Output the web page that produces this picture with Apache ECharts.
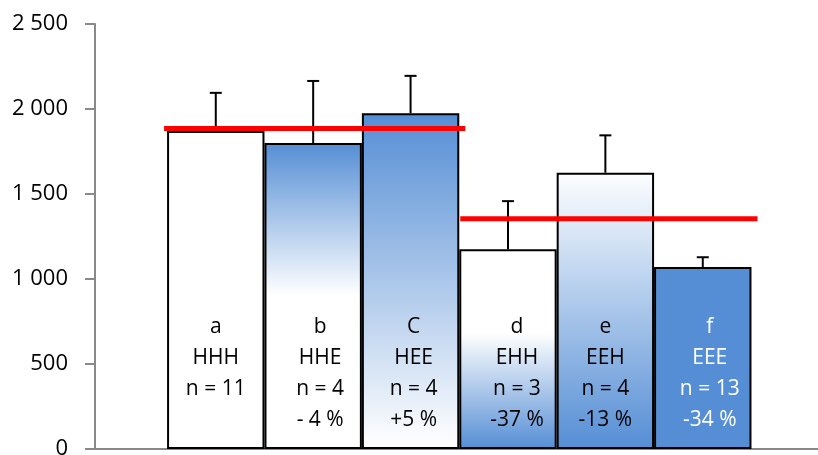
<!DOCTYPE html>
<html>
<head>
<meta charset="utf-8">
<title>Groups HHH–EEE</title>
<script src="https://cdn.jsdelivr.net/npm/echarts@6/dist/echarts.min.js"></script>
<style>
  html, body { margin: 0; padding: 0; background: #fff; }
  #chart { width: 818px; height: 455px; }
</style>
</head>
<body>
<div id="chart"></div>
<script>
// ---- data ----
const groupLetters = ['a', 'b', 'C', 'd', 'e', 'f'];
const groupCodes   = ['HHH', 'HHE', 'HEE', 'EHH', 'EEH', 'EEE'];
const groupN       = ['n = 11', 'n = 4', 'n = 4', 'n = 3', 'n = 4', 'n = 13'];
const groupChange  = ['', '- 4 %', '+5 %', '-37 %', '-13 %', '-34 %'];
const means        = [1870, 1800, 1975, 1175, 1625, 1070];
const errorTops    = [2095, 2165, 2195, 1458, 1845, 1128];
// reference level of each generation block: [first bar, last bar, level]
const blockLevels  = [[0, 2, 1885], [3, 5, 1355]];
const yTicks       = [0, 500, 1000, 1500, 2000, 2500];

// ---- styling ----
const BLUE = '#558ED5';
const grad = (stops) => new echarts.graphic.LinearGradient(0, 0, 0, 1,
  stops.map(([o, c]) => ({ offset: o, color: c })));
const fills = [
  '#ffffff',
  grad([[0, BLUE], [0.5, '#ffffff'], [1, '#ffffff']]),
  grad([[0, BLUE], [0.95, '#f8fafd'], [1, '#ffffff']]),
  grad([[0, '#ffffff'], [0.42, '#ffffff'], [1, BLUE]]),
  grad([[0, '#fdfeff'], [1, BLUE]]),
  BLUE
];
const textColors = ['#000', '#000', '#000', '#000', '#000', '#ffffff'];
const labelShift = [0, 7, 3, 9, 0, 7];   // px nudges of the in-bar captions
const FONT = '"Open Sans", "Liberation Sans", sans-serif';

const chart = echarts.init(document.getElementById('chart'), null, { renderer: 'canvas' });

const fmt = v => String(v).replace(/\B(?=(\d{3})+(?!\d))/g, ' ');

const option = {
  animation: false,
  backgroundColor: '#ffffff',
  grid: { left: 95, right: 0, top: 24, bottom: 6, containLabel: false, outerBoundsMode: 'none' },
  xAxis: {
    type: 'value',
    min: -1.24,
    max: 6.183,
    axisLine: { show: true, onZero: false, lineStyle: { color: '#898989', width: 2 } },
    axisTick: { show: false },
    axisLabel: { show: false },
    splitLine: { show: false }
  },
  yAxis: {
    type: 'value',
    min: yTicks[0],
    max: yTicks[yTicks.length - 1],
    interval: yTicks[1] - yTicks[0],
    axisLine: { show: true, onZero: false, lineStyle: { color: '#898989', width: 2 } },
    axisTick: { show: true, inside: false, length: 10, lineStyle: { color: '#898989', width: 2 } },
    axisLabel: { margin: 27, color: '#000', fontFamily: FONT, fontSize: 22, formatter: fmt },
    splitLine: { show: false }
  },
  series: [
    {
      type: 'bar',
      z: 2,
      barWidth: 97.4,
      data: means.map((v, i) => ({
        value: [i, v],
        itemStyle: { color: fills[i], borderColor: '#000', borderWidth: 2 }
      }))
    },
    {
      // error bars (upper whisker only)
      type: 'custom',
      z: 3,
      data: means.map((v, i) => [i, v, errorTops[i]]),
      renderItem: (params, api) => {
        const x = api.value(0);
        const base = api.coord([x, api.value(1)]);
        const top = api.coord([x, api.value(2)]);
        const st = { stroke: '#000', lineWidth: 2 };
        return {
          type: 'group',
          children: [
            { type: 'line', shape: { x1: base[0], y1: base[1], x2: top[0], y2: top[1] }, style: st },
            { type: 'line', shape: { x1: top[0] - 6, y1: top[1], x2: top[0] + 6, y2: top[1] }, style: st }
          ]
        };
      }
    },
    {
      // block reference levels
      type: 'custom',
      z: 4,
      data: blockLevels,
      renderItem: (params, api) => {
        const first = api.value(0), last = api.value(1), lvl = api.value(2);
        const p1 = api.coord([first - 0.5, lvl]);
        const p2 = api.coord([last + 0.5, lvl]);
        const leftPad = params.dataIndex === 0 ? -3 : 1;
        return {
          type: 'line',
          shape: { x1: p1[0] + leftPad, y1: p1[1], x2: p2[0] + 6, y2: p2[1] },
          style: { stroke: '#ff0000', lineWidth: 5 }
        };
      }
    },
    {
      // captions inside the bars
      type: 'custom',
      z: 5,
      data: means.map((v, i) => [i]),
      renderItem: (params, api) => {
        const i = params.dataIndex;
        const p = api.coord([api.value(0), 0]);
        const lines = [groupLetters[i], groupCodes[i], groupN[i]];
        if (groupChange[i]) lines.push(groupChange[i]);
        return {
          type: 'text',
          style: {
            text: lines.join('\n'),
            x: p[0] + labelShift[i],
            y: p[1] - 137,
            align: 'center',
            verticalAlign: 'top',
            fill: textColors[i],
            font: '21px ' + FONT,
            lineHeight: 31
          }
        };
      }
    }
  ]
};

chart.setOption(option);
</script>
</body>
</html>
